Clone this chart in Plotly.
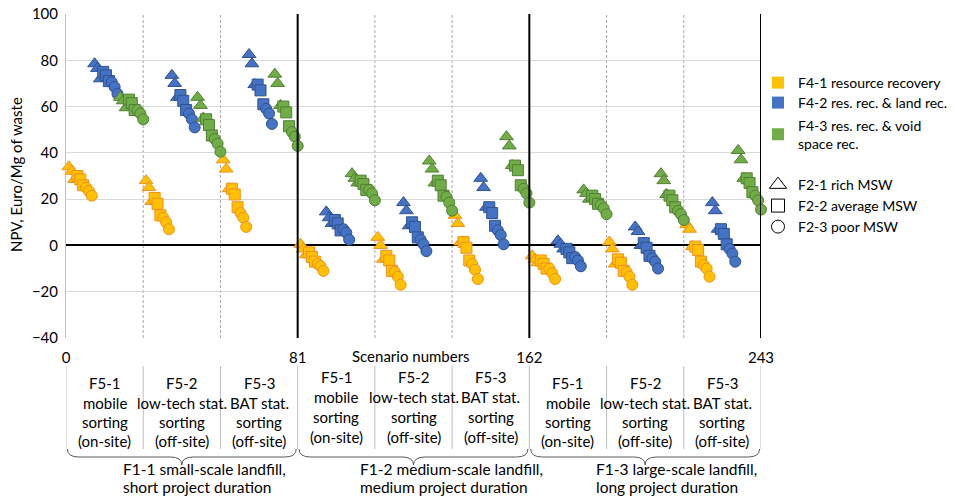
import plotly.graph_objects as go

# ---------------- data ----------------
# scenario order inside each colour block: F2-1 (x3), F2-2 (x3), F2-3 (x3); 9 blocks = F1 x F5
f4_labels = ["F4-1 resource recovery", "F4-2 res. rec. & land rec.", "F4-3 res. rec. & void<br>space rec."]
f2_labels = ["F2-1 rich MSW", "F2-2 average MSW", "F2-3 poor MSW"]

npv_f4_1 = [
    34, 32, 28.5, 30, 28.5, 26, 25, 23.5, 21.5,
    28, 25, 19, 20.5, 18, 13, 12, 10, 7,
    37, 33, 24.5, 24.5, 22, 16.5, 14, 12, 8,
    0.5, -1.5, -4, -3, -5, -7, -8, -9, -11,
    3.5, 0, -6, -4.5, -6.5, -11, -11.5, -13.5, -17,
    13, 9.5, 1.5, 1.5, -1, -6.5, -8, -10.5, -14.5,
    -4.5, -6, -7.5, -6.5, -8, -10, -10, -12, -14.5,
    1.5, -1.5, -8, -6, -7.5, -11, -11.5, -13.5, -17,
    9, 7, -0.5, -0.5, -2, -7, -8.5, -10, -13.5,
]
npv_f4_2 = [
    78.5, 76.5, 72, 75, 73.5, 71, 70.5, 68.5, 65.5,
    73.5, 70, 64, 65, 62.5, 58.5, 57, 54.5, 51,
    82.5, 78.5, 69.5, 69.5, 67, 61, 59, 57, 52.5,
    14.5, 12, 9.5, 11, 9.5, 6.5, 7, 5.5, 2.5,
    18.5, 15, 8.5, 10, 8, 3.5, 2.5, 0.5, -2.5,
    29, 25, 16.5, 16.5, 14, 8.5, 6.5, 4.5, 0.5,
    2, 0.5, -1.5, -1.5, -3, -5.5, -5, -6.5, -9,
    8, 6, 0, 1, -1, -4.5, -5.5, -7, -10,
    18.5, 15, 7, 7, 5, 0.5, -1.5, -3.5, -7,
]
npv_f4_3 = [
    64, 62.5, 59.5, 63, 61.5, 58.5, 58.5, 57, 54.5,
    64, 60.5, 55, 54.5, 52, 47.5, 46, 44, 40.5,
    74, 70, 60.5, 60, 57.5, 51.5, 49, 47, 43,
    31, 29, 27, 28, 26.5, 24, 24, 22.5, 19.5,
    36.5, 33, 27, 28, 26, 21.5, 21, 18.5, 15,
    47, 43, 34.5, 34.5, 32.5, 26, 24.5, 22.5, 18.5,
    24, 22.5, 20, 21.5, 20, 18, 17.5, 16, 13.5,
    31, 28, 22, 21.5, 19.5, 16.5, 15, 13.5, 11,
    41, 37, 29, 29, 27, 23, 21.5, 19.5, 15.5,
]

x_ticks = [0, 81, 162, 243]
f5_labels = [
    ["F5-1", "mobile", "sorting", "(on-site)"],
    ["F5-2", "low-tech stat.", "sorting", "(off-site)"],
    ["F5-3", "BAT stat.", "sorting", "(off-site)"],
]
f1_labels = [
    ["F1-1 small-scale landfill,", "short project duration"],
    ["F1-2 medium-scale landfill,", "medium project duration"],
    ["F1-3 large-scale landfill,", "long project duration"],
]

# ---------------- style ----------------
FONT = "Lato"
FS = 15
LFS = 14
fills = ["#FFC000", "#4472C4", "#70AD47"]
edges = ["#F0901E", "#2F528F", "#507E32"]
symbols = ["triangle-up", "square", "circle"]
sizes = [12, 11, 11]

W, H = 961, 497
L, R, T, B = 66, 761, 14, 338
XMAX = 243
def py2paper(py):
    return (B - py) / (B - T)
def px2x(px):
    return (px - L) / (R - L) * XMAX
def px2paper(px):
    return (px - L) / (R - L)

fig = go.Figure()

series = [npv_f4_1, npv_f4_2, npv_f4_3]
for c, vals in enumerate(series):
    for s in range(3):
        xs, ys = [], []
        for g in range(9):
            for v in range(3):
                xs.append(27 * g + 9 * c + 3 * s + v + 1)
                ys.append(vals[9 * g + 3 * s + v])
        fig.add_trace(go.Scatter(
            x=xs, y=ys, mode="markers", showlegend=False, cliponaxis=False,
            marker=dict(symbol=symbols[s], size=sizes[s], color=fills[c],
                        line=dict(color=edges[c], width=1)),
            hoverinfo="x+y"))

# legend entries (one legend per entry so each can be placed exactly)
legend_names = ["legend", "legend2", "legend3", "legend4", "legend5", "legend6"]
legend_y = [83, 103, 134.5, 185, 206, 227]
for c in range(3):
    fig.add_trace(go.Scatter(
        x=[None], y=[None], mode="markers", name=f4_labels[c], legend=legend_names[c],
        marker=dict(symbol="square", size=12, color=fills[c], line=dict(width=0))))
for s in range(3):
    fig.add_trace(go.Scatter(
        x=[None], y=[None], mode="markers", name=f2_labels[s], legend=legend_names[3 + s],
        marker=dict(symbol=symbols[s] + "-open", size=[15, 13, 13][s], color="#000000",
                    line=dict(width=1))))

shapes = []
for xv in [27, 54, 108, 135, 189, 216]:
    shapes.append(dict(type="line", xref="x", yref="paper", x0=xv, x1=xv, y0=0, y1=1,
                       line=dict(color="#A6A6A6", width=1, dash="3px,2px"), layer="below"))
for xv in [81, 162, 243]:
    shapes.append(dict(type="line", xref="x", yref="paper", x0=xv, x1=xv, y0=0, y1=1,
                       line=dict(color="#000000", width=2), layer="above"))
for k in range(10):
    xv = 27 * k
    shapes.append(dict(type="line", xref="x", yref="paper", x0=xv, x1=xv,
                       y0=py2paper(366), y1=py2paper(449),
                       line=dict(color="#BFBFBF", width=1)))
yt, ym, yb = py2paper(449), py2paper(457), py2paper(465)
for k in range(3):
    a = 81 * k + 0.5
    b = 81 * (k + 1) - 0.5
    c = (a + b) / 2
    r = 4
    path = (f"M {a},{yt} Q {a},{ym} {a + r},{ym} L {c - r},{ym} Q {c},{ym} {c},{yb} "
            f"Q {c},{ym} {c + r},{ym} L {b - r},{ym} Q {b},{ym} {b},{yt}")
    shapes.append(dict(type="path", xref="x", yref="paper", path=path,
                       line=dict(color="#595959", width=1)))

annotations = []
def txt(text, x, y, xref="x", size=FS, xanchor="center", angle=0):
    annotations.append(dict(text=text, xref=xref, yref="paper", x=x, y=y, showarrow=False,
                            xanchor=xanchor, yanchor="middle", textangle=angle,
                            font=dict(family=FONT, size=size, color="#000")))

txt("Scenario numbers", px2x(411), py2paper(356))
txt("NPV, Euro/Mg of waste", px2paper(16), py2paper(175), xref="paper", angle=-90)
for k in range(9):
    grp = k // 3
    rows = [383, 403, 422, 441] if grp != 1 else [377, 397, 417, 437]
    for line, py in zip(f5_labels[k % 3], rows):
        txt(line, 27 * k + 13.5, py2paper(py))
f1_x = [121, 358, 594]
for k in range(3):
    for line, py in zip(f1_labels[k], [469, 487]):
        txt(line, px2x(f1_x[k]), py2paper(py), size=15.5, xanchor="left")

legend_layout = {}
for i, name in enumerate(legend_names):
    legend_layout[name] = dict(x=px2paper(758), y=py2paper(legend_y[i]), xanchor="left",
                               yanchor="middle", bgcolor="rgba(0,0,0,0)",
                               font=dict(family=FONT, size=LFS, color="#000"),
                               itemsizing="trace")

fig.update_layout(
    width=W, height=H, autosize=False,
    margin=dict(l=L, r=W - R, t=T, b=H - B, pad=0, autoexpand=False),
    paper_bgcolor="white", plot_bgcolor="white",
    font=dict(family=FONT, size=FS, color="#000"),
    xaxis=dict(range=[0, XMAX], tickmode="array", tickvals=x_ticks, automargin=False,
               ticktext=[str(t) for t in x_ticks], showgrid=False, zeroline=False,
               showline=False, ticks="outside", ticklen=6, tickcolor="rgba(0,0,0,0)",
               ticklabeloverflow="allow",
               tickfont=dict(family=FONT, size=FS, color="#000")),
    yaxis=dict(range=[-40, 100], tickmode="linear", tick0=-40, dtick=20, automargin=False,
               showgrid=True, gridcolor="#D9D9D9", gridwidth=1,
               zeroline=True, zerolinecolor="#000000", zerolinewidth=1.5,
               showline=True, linecolor="#BFBFBF", linewidth=1,
               ticks="outside", ticklen=4, tickcolor="rgba(0,0,0,0)",
               ticklabeloverflow="allow",
               tickfont=dict(family=FONT, size=FS, color="#000")),
    shapes=shapes,
    annotations=annotations,
    **legend_layout,
)

# remove the default 8px page margin so the 961x497 figure fills the window exactly
fig.write_html("out.html", config={"displayModeBar": False},
               post_script="document.body.style.margin='0';document.body.style.overflow='hidden';")
